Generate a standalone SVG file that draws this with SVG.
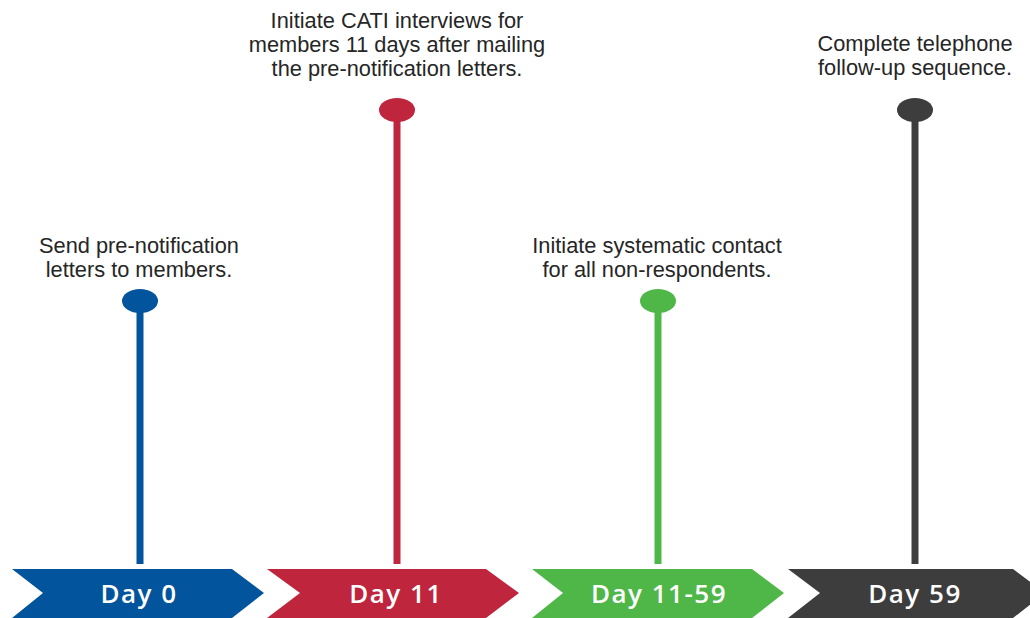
<svg xmlns="http://www.w3.org/2000/svg" width="1030" height="618" viewBox="0 0 1030 618">
<style>
.lbl{font-family:"Liberation Sans",Arial,sans-serif;font-size:21.8px;fill:#262626;text-anchor:middle}
.day{font-family:"Open Sans","Liberation Sans",Arial,sans-serif;font-size:26px;font-weight:600;fill:#fff;text-anchor:middle;letter-spacing:1.5px}
</style>
<rect width="1030" height="618" fill="#fff"/>
<g id="connectors">
<rect x="136.5" y="305" width="7" height="259" fill="#02549c"/>
<rect x="393.5" y="112" width="7" height="452" fill="#c0253e"/>
<rect x="654.5" y="305" width="7" height="259" fill="#4fb748"/>
<rect x="911.5" y="112" width="7" height="452" fill="#3d3d3d"/>
</g>
<g id="day0">
<polygon points="12,569 232,569 264,593 232,618 12,618 43,593" fill="#02549c"/>
<text class="day" x="139" y="603">Day 0</text>
<ellipse cx="140" cy="301" rx="18" ry="12" fill="#02549c"/>
<text class="lbl" x="139" y="253">Send pre-notification</text>
<text class="lbl" x="139" y="277">letters to members.</text>
</g>
<g id="day11">
<polygon points="267,569 486,569 519,593 486,618 267,618 300,593" fill="#c0253e"/>
<text class="day" x="396" y="603">Day 11</text>
<ellipse cx="397" cy="110" rx="18" ry="12" fill="#c0253e"/>
<text class="lbl" x="397" y="28">Initiate CATI interviews for</text>
<text class="lbl" x="397" y="52">members 11 days after mailing</text>
<text class="lbl" x="397" y="76">the pre-notification letters.</text>
</g>
<g id="day1159">
<polygon points="532,569 752,569 784,593 752,618 532,618 563,593" fill="#4fb748"/>
<text class="day" x="659" y="603">Day 11-59</text>
<ellipse cx="658" cy="301" rx="18" ry="12" fill="#4fb748"/>
<text class="lbl" x="657" y="253">Initiate systematic contact</text>
<text class="lbl" x="657" y="277">for all non-respondents.</text>
</g>
<g id="day59">
<polygon points="788,569 1013,569 1045,593 1013,618 788,618 820,593" fill="#3d3d3d"/>
<text class="day" x="915" y="603">Day 59</text>
<ellipse cx="915" cy="110" rx="18" ry="12" fill="#3d3d3d"/>
<text class="lbl" x="915" y="51">Complete telephone</text>
<text class="lbl" x="915" y="75">follow-up sequence.</text>
</g>
</svg>
